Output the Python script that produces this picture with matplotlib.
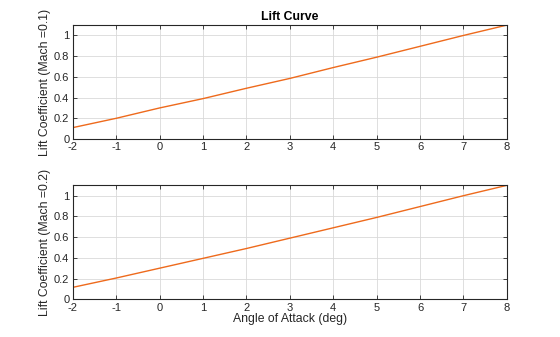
import matplotlib.pyplot as plt

# Angle of attack (deg) and lift coefficient at two Mach numbers
alpha = [-2, -1, 0, 1, 2, 3, 4, 5, 6, 7, 8]
cl_mach01 = [0.11, 0.20, 0.30, 0.39, 0.49, 0.585, 0.69, 0.79, 0.895, 1.0, 1.1]
cl_mach02 = [0.115, 0.205, 0.30, 0.395, 0.49, 0.59, 0.69, 0.79, 0.895, 1.0, 1.1]
mach = [0.1, 0.2]

x_ticks = [-2, -1, 0, 1, 2, 3, 4, 5, 6, 7, 8]
y_ticks = [0, 0.2, 0.4, 0.6, 0.8, 1.0]
y_tick_labels = ["0", "0.2", "0.4", "0.6", "0.8", "1"]

plt.rcParams["font.family"] = ["Liberation Sans", "DejaVu Sans"]
plt.rcParams["axes.unicode_minus"] = False

fig = plt.figure(figsize=(5.6, 3.37), dpi=100)
ax_top = fig.add_axes([0.130, 0.5875, 0.775, 0.338])
ax_bot = fig.add_axes([0.130, 0.112, 0.775, 0.338])

for ax, cl, m in zip([ax_top, ax_bot], [cl_mach01, cl_mach02], mach):
    ax.plot(alpha, cl, color="#EE6A1C", linewidth=1.0)
    ax.set_xlim(-2, 8)
    ax.set_ylim(0, 1.1)
    ax.set_xticks(x_ticks)
    ax.set_xticklabels([str(t) for t in x_ticks])
    ax.set_yticks(y_ticks)
    ax.set_yticklabels(y_tick_labels)
    ax.grid(True, color="#d9d9d9", linewidth=0.6)
    ax.set_axisbelow(True)
    ax.tick_params(direction="in", top=True, right=True, length=3,
                   width=0.6, labelsize=8, pad=2.5, colors="#262626")
    for s in ax.spines.values():
        s.set_linewidth(0.8)
        s.set_color("#262626")
    ax.set_ylabel(f"Lift Coefficient (Mach ={m})", fontsize=8.8, labelpad=2,
                  color="#262626")

ax_top.set_title("Lift Curve", fontsize=8.8, fontweight="bold", pad=4)
ax_bot.set_xlabel("Angle of Attack (deg)", fontsize=8.8, labelpad=0.5,
                  color="#262626")

fig.savefig("out.png", dpi=100, facecolor="white")
